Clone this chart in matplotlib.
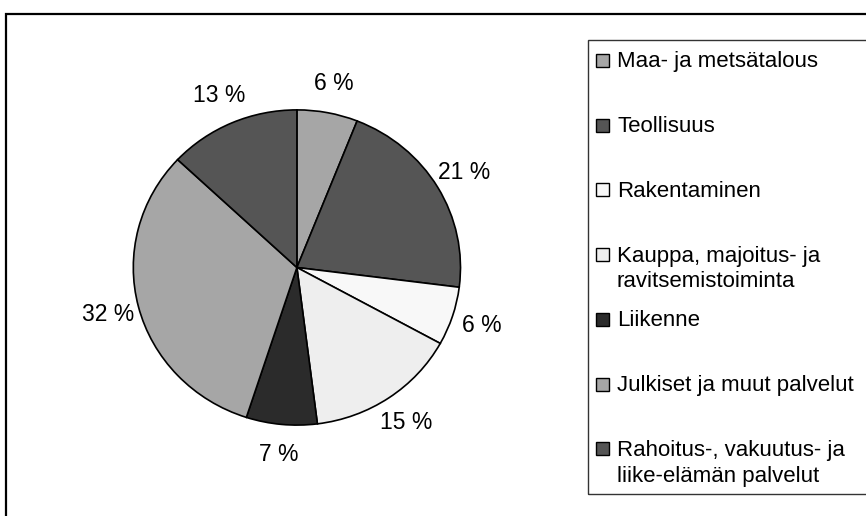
import matplotlib
matplotlib.use("Agg")
import matplotlib.pyplot as plt
from matplotlib.patches import Rectangle

plt.rcParams['font.family'] = ['Liberation Sans', 'DejaVu Sans']

categories = [
    "Maa- ja metsätalous",
    "Teollisuus",
    "Rakentaminen",
    "Kauppa, majoitus- ja\nravitsemistoiminta",
    "Liikenne",
    "Julkiset ja muut palvelut",
    "Rahoitus-, vakuutus- ja\nliike-elämän palvelut",
]
values = [6, 21, 6, 15, 7, 32, 13]
colors = ["#a6a6a6", "#555555", "#f8f8f8", "#eeeeee", "#2b2b2b", "#a6a6a6", "#555555"]

W, H = 866, 516
fig = plt.figure(figsize=(W / 100, H / 100), dpi=100)

# outer chart frame
fig.patches.append(Rectangle((5.5 / W, -0.1), 1.2, (H - 14) / H + 0.1,
                             transform=fig.transFigure, fill=False,
                             edgecolor="black", linewidth=1.6, clip_on=False))

ax = fig.add_axes([92.4 / W, 51.5 / H, 409 / W, 394 / H])
wedges, texts = ax.pie(values, colors=colors, startangle=90, counterclock=False,
                       labels=[f"{v} %" for v in values], labeldistance=1.19,
                       wedgeprops=dict(edgecolor="black", linewidth=1.2),
                       textprops=dict(fontsize=16.5, color="black"))
for t in texts:
    t.set_ha("center")
    t.set_va("center")
ax.set_aspect("auto")
ax.set_xlim(-1.25, 1.25)
ax.set_ylim(-1.25, 1.25)

# legend box
fig.patches.append(Rectangle((587.5 / W, 22 / H), 1.0, (494 - 39.5) / H,
                             transform=fig.transFigure, fill=False,
                             edgecolor="#333333", linewidth=1.0, clip_on=False))
step = 64.7
for i, (lab, col) in enumerate(zip(categories, colors)):
    yc = 60 + step * i
    fig.patches.append(Rectangle((596 / W, (H - yc - 7) / H), 13 / W, 13 / H,
                                 transform=fig.transFigure, facecolor=col,
                                 edgecolor="black", linewidth=1.0))
    fig.text(617 / W, (H - yc + 8.5) / H, lab, fontsize=16, ha="left",
             va="top", linespacing=1.3)

fig.savefig("out.png", dpi=100, facecolor="white")
